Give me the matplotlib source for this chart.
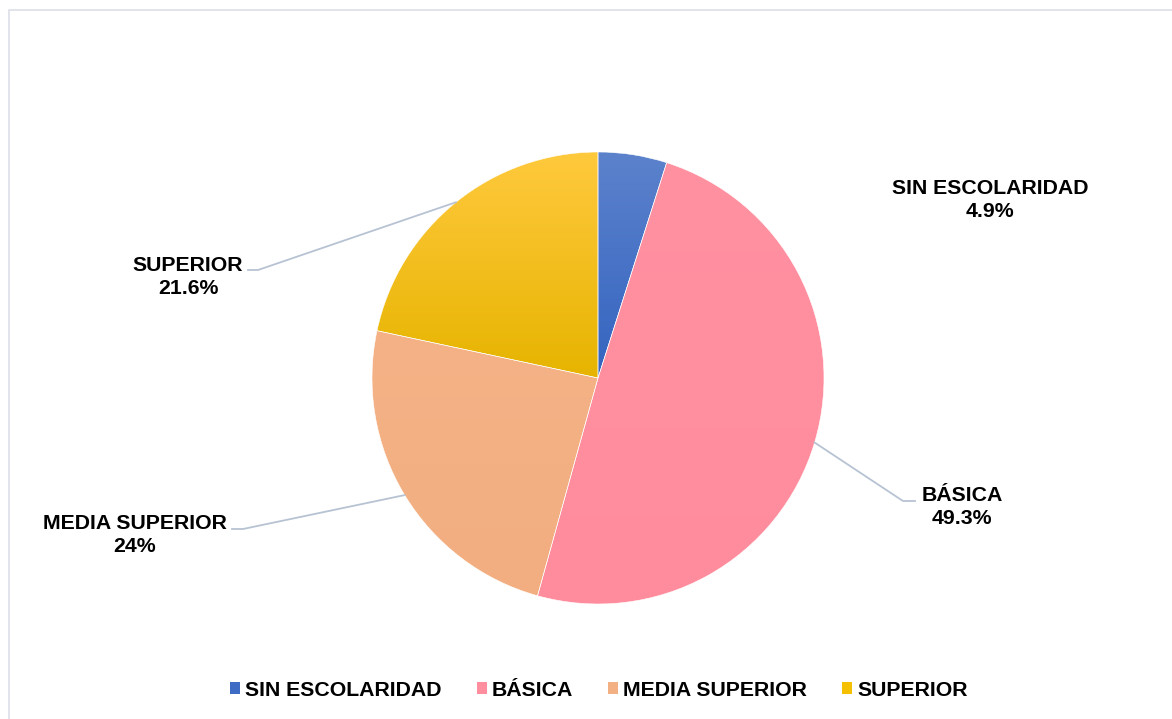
import matplotlib.pyplot as plt
import numpy as np
from matplotlib.colors import LinearSegmentedColormap
from matplotlib.patches import Patch, Rectangle

plt.rcParams['font.family'] = ['Liberation Sans', 'DejaVu Sans']

categories = ['SIN ESCOLARIDAD', 'BÁSICA', 'MEDIA SUPERIOR', 'SUPERIOR']
values = [4.9, 49.3, 24, 21.6]
value_labels = ['4.9%', '49.3%', '24%', '21.6%']

# top / bottom colour of each slice's vertical gradient
top_colors = ['#5c82cc', '#ff91a1', '#f4b286', '#ffc93d']
bottom_colors = ['#3464c0', '#ff8c9d', '#f2ae80', '#e6b400']
legend_colors = ['#3e6cc4', '#ff8f9f', '#f3b183', '#f5c000']

W, H = 1172, 719
fig = plt.figure(figsize=(W / 100, H / 100), dpi=100)

# pie centre (598, 378) px, radius 226 px
cx, cy, r = 598, 378, 226
ax = fig.add_axes([(cx - r) / W, (H - cy - r) / H, 2 * r / W, 2 * r / H])
ax.set_xlim(-1, 1)
ax.set_ylim(-1, 1)
ax.set_aspect('equal')
ax.axis('off')

wedges, _ = ax.pie(values, startangle=90, counterclock=False, radius=1,
                   colors=bottom_colors, normalize=True)

grad = np.linspace(0, 1, 256).reshape(-1, 1)
for w, c0, c1 in zip(wedges, top_colors, bottom_colors):
    bb = w.get_path().get_extents()
    cmap = LinearSegmentedColormap.from_list('g', [c0, c1])
    im = ax.imshow(grad, cmap=cmap, aspect='auto', origin='upper',
                   extent=[bb.x0, bb.x1, bb.y0, bb.y1], zorder=2)
    im.set_clip_path(w)
    w.set_facecolor('none')
    w.set_edgecolor('white')
    w.set_linewidth(0.4)
    w.set_zorder(3)
ax.set_xlim(-1, 1)
ax.set_ylim(-1, 1)


def px(x, y):
    return (x - cx) / r, (cy - y) / r


# label centres and leader elbows (None = no leader line)
label_pos = [px(990, 200), px(962, 507), px(135, 535), px(188, 277)]
elbows = [None,
          (px(903, 501), px(915, 501)),
          (px(243, 529), px(232, 529)),
          (px(258, 270), px(248, 270))]

for w, cat, lab, pos, elb in zip(wedges, categories, value_labels,
                                 label_pos, elbows):
    ax.text(pos[0], pos[1], f'{cat}\n{lab}', ha='center', va='center',
            fontsize=15.3, fontweight='bold', color='black',
            linespacing=1.32, clip_on=False, zorder=5)
    if elb is not None:
        mid = np.deg2rad((w.theta1 + w.theta2) / 2)
        xs = [np.cos(mid), elb[0][0], elb[1][0]]
        ys = [np.sin(mid), elb[0][1], elb[1][1]]
        ax.plot(xs, ys, color='#b7c3d3', lw=1.3, clip_on=False, zorder=4)

handles = [Patch(facecolor=c, edgecolor='none') for c in legend_colors]
fig.legend(handles, categories, loc='center', ncol=4,
           bbox_to_anchor=(599 / W, 1 - 690 / H), frameon=False,
           prop={'size': 15.3, 'weight': 'bold'},
           handlelength=0.47, handleheight=0.47, handletextpad=0.235,
           columnspacing=1.65)

# light chart-area border
fig.add_artist(Rectangle((9.5 / W, -0.1), 1.2, 1.1 - 10.5 / H,
                         transform=fig.transFigure, fill=False,
                         edgecolor='#dcdfe6', lw=1.2))

fig.savefig('out.png', dpi=100)
